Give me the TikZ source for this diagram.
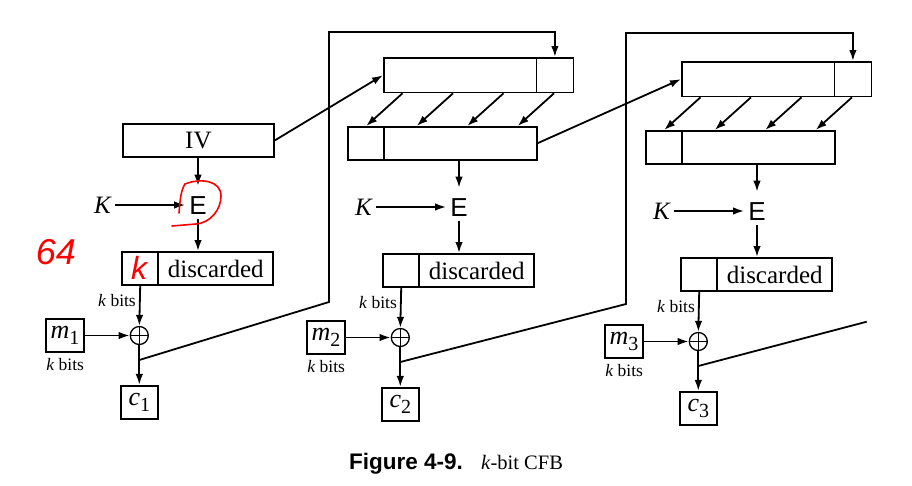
\documentclass[tikz,border=0pt]{standalone}
\usepackage{fontspec}
\setmainfont{Liberation Serif}
\newfontfamily\helv{Liberation Sans}
\usetikzlibrary{arrows.meta,calc}

% lowered index for m_i and c_i
\newcommand\lowidx[1]{\raisebox{-0.22em}{\fontsize{20}{22}\selectfont #1}}

\tikzset{
  wire/.style={line width=1.8pt},
  arr/.style={wire, -{Latex[length=11pt,width=7.5pt]}},
  cell/.style={draw, line width=1.8pt, inner sep=0pt, anchor=north west,
    font=\fontsize{25}{28}\selectfont},
  ebox/.style={anchor=base, inner sep=4pt, text height=24.6pt, text depth=0pt,
    font=\helv\fontsize{26}{28}\selectfont},
  keyin/.style={inner sep=4pt, font=\fontsize{25}{28}\selectfont\itshape},
  bitsnote/.style={inner sep=1pt, font=\fontsize{17.5}{20}\selectfont},
  xorop/.style={draw, circle, line width=1.3pt, minimum size=18pt, inner sep=0pt,
    path picture={\draw[line width=1.3pt]
      (path picture bounding box.north) -- (path picture bounding box.south)
      (path picture bounding box.west) -- (path picture bounding box.east);}},
  vbox/.style={draw, line width=1.8pt, inner sep=0pt, font=\fontsize{26}{28}\selectfont},
  pen/.style={red, line width=1.6pt, line cap=round, line join=round},
}

% encryption, kept k bits, XOR with plaintext and ciphertext block of stage #1
\newcommand\cfbstage[1]{%
  \node[ebox] (E#1) at (0,9.5) {E};
  \node[keyin] (K#1) at (-95.5,0) {K};
  \draw[arr] (K#1.east) -- (K#1.east -| E#1.west);
  \node[cell, minimum width=36pt, minimum height=33.4pt] (S#1) at (-76.7,46) {};
  \node[cell, minimum width=115pt, minimum height=33.4pt] (D#1) at (-40.7,46) {discarded};
  \draw[arr] (E#1.south) -- (E#1.south |- D#1.north);
  \node[xorop] (X#1) at (-58.7,130.5) {};
  \draw[arr] (S#1.south) -- (X#1.north);
  \node[bitsnote, anchor=east] (kb#1) at (-61,95.5) {\textit{k} bits};
  \node[vbox, minimum width=37.5pt, minimum height=33.3pt] (M#1) at (-132.9,130.5) {\textit{m}\lowidx{#1}};
  \draw[arr] (M#1.east) -- (X#1.west);
  \node[bitsnote] (km#1) at (-132.9,159.5) {\textit{k} bits};
  \node[vbox, minimum width=37pt, minimum height=33.4pt] (C#1) at (-58.7,197.5) {\textit{c}\lowidx{#1}};
  \draw[arr] (X#1.south) -- (C#1.north);
  \coordinate (F#1) at (-58.7,155);
}

% shift register of stage #1: upper register shifted left by k bits into the lower one
\newcommand\shiftreg[1]{%
  \node[cell, minimum width=152.5pt, minimum height=34.5pt] (TB#1) at (-76,-150) {};
  \node[cell, minimum width=37pt, minimum height=34.5pt] (TS#1) at (76.5,-150) {};
  \node[cell, minimum width=36pt, minimum height=32.7pt] (BS#1) at (-112.3,-81) {};
  \node[cell, minimum width=153pt, minimum height=32.7pt] (BB#1) at (-76.3,-81) {};
  \foreach \o in {19.5,70,120.5,171}
    \draw[arr] ($(TB#1.south west)+(\o,0)$) -- ($(BS#1.north west)+(\o,0)$);
  \draw[arr] (E#1.north |- BB#1.south) -- (E#1.north);
}

\begin{document}
\begin{tikzpicture}[x=1pt,y=-1pt]
\useasboundingbox (0,0) rectangle (912,485);

\begin{scope}[shift={(198,205)}]
  \cfbstage{1}
  \node[cell, minimum width=151pt, minimum height=33pt] (IV) at (-76,-82) {IV};
  \draw[arr] (E1.north |- IV.south) -- (E1.north);
\end{scope}
\begin{scope}[shift={(459,207)}]
  \cfbstage{2}
  \shiftreg{2}
\end{scope}
\begin{scope}[shift={(757,211)}]
  \cfbstage{3}
  \shiftreg{3}
\end{scope}

% register contents passed on to the next stage
\draw[arr] (IV.east) -- (TB2.west);
\draw[arr] (BB2.east) -- (TB3.west);

% ciphertext fed back into the right end of the next register
\coordinate (L1) at (329,302);
\coordinate (T1) at (329,32);
\draw[arr] (F1) -- (L1) -- (T1) -| (TS2.north);
\coordinate (L2) at (626,304);
\coordinate (T2) at (626,33);
\draw[arr] (F2) -- (L2) -- (T2) -| (TS3.north);
\coordinate (L3) at (866.7,321.7);
\draw[wire] (F3) -- (L3);

% caption
\node[anchor=base west, font=\helv\bfseries\fontsize{22.5}{26}\selectfont, inner sep=0pt]
  (cap) at (349,469) {Figure 4-9.};
\node[anchor=base west, font=\fontsize{20.5}{24}\selectfont, inner sep=0pt]
  (capt) at (481,469) {\textit{k}-bit CFB};

% red pen notes
\node[text=red, font=\helv\itshape\fontsize{36}{40}\selectfont, inner sep=0pt] (n64) at (56,252) {64};
\node[text=red, font=\helv\itshape\fontsize{32}{34}\selectfont, inner sep=0pt] (nk) at (139,268) {k};
\draw[pen] (179,213) .. controls (180,200) and (181,190) .. (185,184)
  .. controls (200,178) and (221,180) .. (221,196)
  .. controls (221,210) and (210,223) .. (196,224) -- (172,226);
\end{tikzpicture}
\end{document}
